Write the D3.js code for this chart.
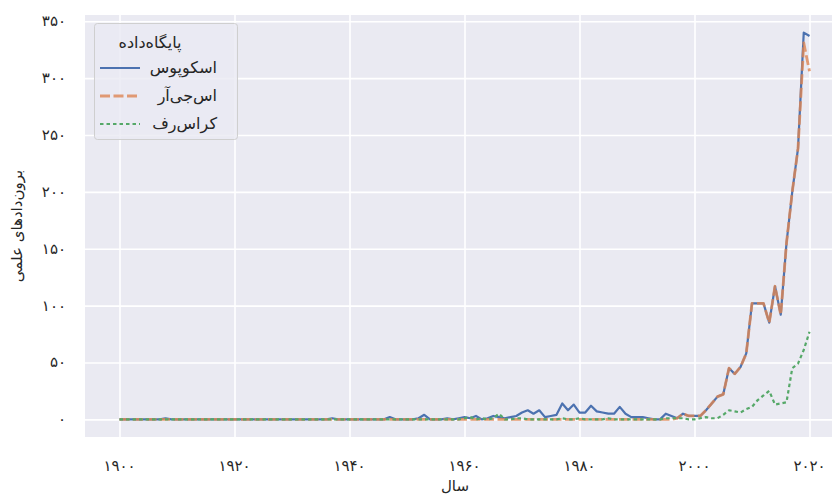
<!DOCTYPE html>
<html lang="fa">
<head>
<meta charset="UTF-8">
<title>برون‌دادهای علمی</title>
<script src="https://d3js.org/d3.v7.min.js"></script>
<style>
  body { margin: 0; background: #fff; }
  text { font-family: "DejaVu Sans", sans-serif; fill: #262626; }
</style>
</head>
<body>
<svg id="chart" width="832" height="496"></svg>
<script>
  // years on the x axis, one value per year
  var years = d3.range(1900, 2021);

  var scopus = [
    0, 0, 0, 0, 0, 0, 0, 0, 1, 0,
    0, 0, 0, 0, 0, 0, 0, 0, 0, 0,
    0, 0, 0, 0, 0, 0, 0, 0, 0, 0,
    0, 0, 0, 0, 0, 0, 0, 1, 0, 0,
    0, 0, 0, 0, 0, 0, 0, 2, 0, 0,
    0, 0, 1, 4, 0, 0, 0, 1, 0, 1,
    2, 1, 3, 0, 1, 3, 2, 1, 2, 3,
    6, 8, 5, 8, 2, 3, 4, 14, 8, 13,
    6, 6, 12, 7, 6, 5, 5, 11, 5, 2,
    2, 2, 1, 0, 0, 5, 3, 1, 5, 3,
    3, 3, 8, 14, 20, 22, 45, 40, 46, 58,
    102, 102, 102, 85, 117, 92, 155, 200, 238, 340, 337
  ];

  var sjr = [
    0, 0, 0, 0, 0, 0, 0, 0, 0, 0,
    0, 0, 0, 0, 0, 0, 0, 0, 0, 0,
    0, 0, 0, 0, 0, 0, 0, 0, 0, 0,
    0, 0, 0, 0, 0, 0, 0, 0, 0, 0,
    0, 0, 0, 0, 0, 0, 0, 0, 0, 0,
    0, 0, 0, 0, 0, 0, 0, 0, 0, 0,
    0, 0, 0, 0, 0, 0, 0, 0, 0, 0,
    0, 0, 0, 0, 0, 0, 0, 0, 0, 0,
    0, 0, 0, 0, 0, 0, 0, 0, 0, 0,
    0, 0, 0, 0, 0, 0, 0, 1, 5, 3,
    3, 3, 8, 14, 20, 22, 45, 40, 46, 58,
    102, 102, 102, 85, 117, 92, 155, 200, 238, 331, 306
  ];

  var crossref = [
    0, 0, 0, 0, 0, 0, 0, 0, 0, 0,
    0, 0, 0, 0, 0, 0, 0, 0, 0, 0,
    0, 0, 0, 0, 0, 0, 0, 0, 0, 0,
    0, 0, 0, 0, 0, 0, 0, 0, 0, 0,
    0, 0, 0, 0, 0, 0, 0, 0, 0, 0,
    0, 0, 0, 0, 0, 0, 0, 0, 0, 0,
    1, 2, 0, 1, 0, 1, 5, 0, 0, 1,
    1, 0, 0, 0, 0, 0, 0, 1, 0, 0,
    1, 0, 0, 0, 0, 1, 0, 0, 0, 0,
    0, 0, 0, 0, 0, 1, 1, 1, 1, 0,
    0, 1, 2, 1, 1, 4, 8, 7, 6, 9,
    11, 17, 21, 25, 13, 14, 15, 45, 49, 61, 77
  ];

  var seriesNames = ["اسکوپوس", "اس‌جی‌آر", "کراس‌رف"];
  var xTicks = [1900, 1920, 1940, 1960, 1980, 2000, 2020];
  var yTicks = [0, 50, 100, 150, 200, 250, 300, 350];

  var series = [
    { name: seriesNames[0], values: scopus, color: "#4c72b0", width: 2.2, dash: null, alpha: 1 },
    { name: seriesNames[1], values: sjr, color: "#dd8452", width: 2.8, dash: "10,3.5", alpha: 0.8 },
    { name: seriesNames[2], values: crossref, color: "#55a868", width: 2.2, dash: "3.5,3", alpha: 1 }
  ];

  // persian digits for tick labels
  function fa(n) {
    return String(n).replace(/[0-9]/g, function (d) { return "۰۱۲۳۴۵۶۷۸۹"[+d]; });
  }

  var svg = d3.select("#chart");
  var pLeft = 85, pTop = 15, pBottom = 437, pRight = 844;

  var x = d3.scaleLinear().domain([1894, 2026]).range([pLeft, pRight]);
  var y = d3.scaleLinear().domain([-15.5, 355.5]).range([pBottom, pTop]);

  svg.append("rect")
    .attr("x", pLeft).attr("y", pTop)
    .attr("width", pRight - pLeft).attr("height", pBottom - pTop)
    .attr("fill", "#eaeaf2");

  // grid
  svg.append("g")
    .attr("transform", "translate(0," + pBottom + ")")
    .call(d3.axisBottom(x).tickValues(xTicks).tickSize(-(pBottom - pTop)).tickFormat(""))
    .call(function (g) { g.select(".domain").remove(); })
    .selectAll("line").attr("stroke", "#fff").attr("stroke-width", 1.6);

  svg.append("g")
    .attr("transform", "translate(" + pLeft + ",0)")
    .call(d3.axisLeft(y).tickValues(yTicks).tickSize(-(pRight - pLeft)).tickFormat(""))
    .call(function (g) { g.select(".domain").remove(); })
    .selectAll("line").attr("stroke", "#fff").attr("stroke-width", 1.6);

  // tick labels
  svg.append("g").selectAll("text")
    .data(xTicks).enter().append("text")
    .attr("x", function (d) { return x(d); })
    .attr("y", 471)
    .attr("text-anchor", "middle")
    .attr("font-size", 15)
    .text(function (d) { return fa(d); });

  svg.append("g").selectAll("text")
    .data(yTicks).enter().append("text")
    .attr("x", 66)
    .attr("y", function (d) { return y(d) + 5; })
    .attr("text-anchor", "end")
    .attr("font-size", 15)
    .text(function (d) { return fa(d); });

  // axis titles
  svg.append("text")
    .attr("x", 455).attr("y", 491)
    .attr("text-anchor", "middle").attr("font-size", 15)
    .text("سال");

  svg.append("text")
    .attr("transform", "translate(22," + ((pTop + pBottom) / 2) + ") rotate(-90)")
    .attr("text-anchor", "middle").attr("font-size", 15)
    .text("برون‌دادهای علمی");

  // lines
  var line = d3.line()
    .x(function (d, i) { return x(years[i]); })
    .y(function (d) { return y(d); });

  svg.append("g").selectAll("path")
    .data(series).enter().append("path")
    .attr("d", function (s) { return line(s.values); })
    .attr("fill", "none")
    .attr("stroke", function (s) { return s.color; })
    .attr("stroke-opacity", function (s) { return s.alpha; })
    .attr("stroke-width", function (s) { return s.width; })
    .attr("stroke-dasharray", function (s) { return s.dash; })
    .attr("stroke-linejoin", "round");

  // legend
  var legend = svg.append("g");
  legend.append("rect")
    .attr("x", 94.5).attr("y", 23.5)
    .attr("width", 143).attr("height", 116)
    .attr("rx", 3)
    .attr("fill", "#eaeaf2").attr("fill-opacity", 0.8)
    .attr("stroke", "#cfcfcf");

  legend.append("text")
    .attr("x", 150).attr("y", 48)
    .attr("text-anchor", "middle").attr("font-size", 16)
    .text("پایگاه‌داده");

  var entry = legend.selectAll(".entry")
    .data(series).enter().append("g")
    .attr("transform", function (s, i) { return "translate(0," + (68 + i * 28) + ")"; });

  entry.append("line")
    .attr("x1", 100).attr("x2", 140)
    .attr("stroke", function (s) { return s.color; })
    .attr("stroke-opacity", function (s) { return s.alpha; })
    .attr("stroke-width", function (s) { return s.width; })
    .attr("stroke-dasharray", function (s) { return s.dash; });

  entry.append("text")
    .attr("x", 217).attr("y", 5)
    .attr("text-anchor", "end").attr("font-size", 16)
    .text(function (s) { return s.name; });
</script>
</body>
</html>
